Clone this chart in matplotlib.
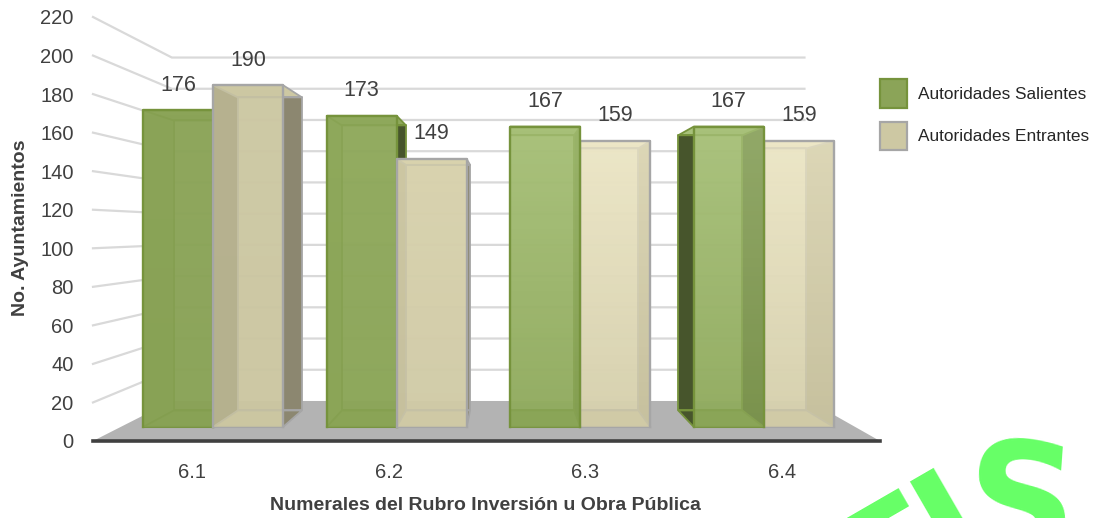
import matplotlib
matplotlib.use("Agg")
import matplotlib.pyplot as plt
import numpy as np
from matplotlib.colors import LinearSegmentedColormap
from matplotlib.patches import Patch, Polygon

plt.rcParams["font.family"] = ["Liberation Sans", "DejaVu Sans"]

categories = ["6.1", "6.2", "6.3", "6.4"]
salientes = [176, 173, 167, 167]
entrantes = [190, 149, 159, 159]
y_ticks = list(range(0, 221, 20))

# colour of the front faces, top and bottom of each group
green_top = ["#8ba458", "#8fa95c", "#a7c078", "#a8c17a"]
green_bot = ["#88a255", "#8aa456", "#8aa557", "#8aa557"]
beige_top = ["#cdc8a3", "#d8d2ad", "#ece6c6", "#ece6c6"]
beige_bot = ["#cbc6a1", "#cfc9a5", "#d0caa6", "#d0caa6"]
# side face seen through the glass
green_in = ["#8ba458", "#8fa95c", "#6f8a3c", "#47552c"]
beige_in = ["#6d6a50", "#a8a384", "#a8a384", "#a8a384"]

GREEN_EDGE = "#76933c"
BEIGE_EDGE = "#a6a6a6"
TEXT = "#404040"

# one point perspective: s is how far back a point sits, 0 = front of the floor
VX, VV = 508, 109.3
S_FRONT, S_BACK, S_WALL = 0.067, 0.145, 0.19
X_LEFT, X_RIGHT = 93, 880
GROUP_X = [192 + 196.7 * i for i in range(4)]
BAR_W = 75


def proj(x, v, s):
    return VX + (x - VX) * (1 - s), VV + (v - VV) * (1 - s)


fig = plt.figure(figsize=(10.94, 5.18), dpi=100)
ax = fig.add_axes([93 / 1094, 77 / 518, 787 / 1094, 424 / 518])
ax.set_xlim(X_LEFT, X_RIGHT)
ax.set_ylim(0, 220)


def face(points, color, alpha=1.0, edge=None, lw=1.0, z=3):
    ax.add_patch(Polygon(points, closed=True, facecolor=color, alpha=alpha,
                         edgecolor="none", zorder=z))
    if edge:
        ax.add_patch(Polygon(points, closed=True, fill=False, edgecolor=edge,
                             linewidth=lw, zorder=z + 0.1, joinstyle="round"))


def box(x0, x1, v, top, bot, side_l, side_r, edge, z):
    f = lambda x, val: proj(x, val, S_FRONT)
    b = lambda x, val: proj(x, val, S_BACK)
    # back, floor and sides first, the front goes over them like glass
    face([b(x0, 0), b(x1, 0), b(x1, v), b(x0, v)], top, alpha=0.85, edge=edge, lw=1.3, z=z)
    face([f(x0, 0), f(x1, 0), b(x1, 0), b(x0, 0)], bot, edge=edge, lw=1.3, z=z)
    face([f(x0, 0), b(x0, 0), b(x0, v), f(x0, v)], side_l, z=z)
    face([f(x1, 0), b(x1, 0), b(x1, v), f(x1, v)], side_r, z=z)
    face([f(x0, v), f(x1, v), b(x1, v), b(x0, v)], top, edge=edge, lw=1.3, z=z)

    (left, base) = f(x0, 0)
    (right, roof) = f(x1, v)
    cmap = LinearSegmentedColormap.from_list("bar", [top, bot])
    im = ax.imshow(np.linspace(0, 1, 64).reshape(-1, 1), cmap=cmap, aspect="auto",
                   extent=(left, right, base, roof), alpha=0.78, zorder=z + 0.2)
    im.set_clip_on(False)
    # bottom edge of the front is hardly visible in the original
    ax.plot([left, left, right, right], [base, roof, roof, base], color=edge, lw=1.7,
            zorder=z + 0.3, clip_on=False, solid_joinstyle="round")
    ax.plot([left, right], [base, base], color=edge, lw=0.8, alpha=0.7,
            zorder=z + 0.3, clip_on=False)


# floor
face([proj(X_LEFT, 0, 0), proj(X_RIGHT, 0, 0), proj(X_RIGHT, 0, S_WALL),
      proj(X_LEFT, 0, S_WALL)], "#b3b3b3", z=1)

# walls
for v in y_ticks[1:]:
    xs, ys = zip(proj(X_LEFT, v, 0), proj(X_LEFT, v, S_WALL), proj(X_RIGHT - 6, v, S_WALL))
    ax.plot(xs, ys, color="#d9d9d9", lw=1.6, zorder=1, clip_on=False,
            solid_joinstyle="miter")

# bars, the side facing the centre shows through the glass
for i, cx in enumerate(GROUP_X):
    if i < 2:
        g_sides = (green_in[i], "#47552c")
        e_sides = (beige_in[i], "#8c8770")
    else:
        g_sides = ("#47552c", green_in[i])
        e_sides = ("#8c8770", beige_in[i])
    g = (cx - BAR_W, cx, salientes[i], green_top[i], green_bot[i], *g_sides, GREEN_EDGE)
    e = (cx, cx + BAR_W, entrantes[i], beige_top[i], beige_bot[i], *e_sides, BEIGE_EDGE)
    if i < 2:
        box(*g, z=3 + i)
        box(*e, z=3.5 + i)
    else:
        box(*e, z=3 + i)
        box(*g, z=3.5 + i)

    for x, val in ((cx - BAR_W / 2, salientes[i]), (cx + BAR_W / 2, entrantes[i])):
        px, py = proj(x, val, S_FRONT)
        ax.annotate(str(val), (px, py), xytext=(0, 18), textcoords="offset points",
                    ha="center", va="center", fontsize=15.5, color=TEXT, zorder=20,
                    annotation_clip=False)

ax.set_xlim(X_LEFT, X_RIGHT)
ax.set_ylim(0, 220)
ax.set_xticks(GROUP_X, categories)
ax.set_yticks(y_ticks)
ax.tick_params(axis="both", length=0, labelsize=14.5, labelcolor=TEXT)
ax.tick_params(axis="x", pad=16)
ax.tick_params(axis="y", pad=14)
for side in ("top", "left", "right"):
    ax.spines[side].set_visible(False)
ax.spines["bottom"].set_color("#404040")
ax.spines["bottom"].set_linewidth(2.6)
ax.spines["bottom"].set_zorder(15)
ax.patch.set_visible(False)

ax.set_xlabel("Numerales del Rubro Inversión u Obra Pública", fontsize=14,
              fontweight="bold", color=TEXT, va="center")
ax.xaxis.set_label_coords(0.499, -64 / 424)
ax.set_ylabel("No. Ayuntamientos", fontsize=14, fontweight="bold", color=TEXT,
              va="center")
ax.yaxis.set_label_coords(-72 / 787, 213 / 424)

handles = [Patch(facecolor="#8ba458", edgecolor=GREEN_EDGE, linewidth=1.6),
           Patch(facecolor="#cdc8a3", edgecolor=BEIGE_EDGE, linewidth=1.6)]
fig.legend(handles, ["Autoridades Salientes", "Autoridades Entrantes"],
           loc="upper left", bbox_to_anchor=(880 / 1094, 1 - 79 / 518),
           frameon=False, fontsize=12.4, labelcolor="#262626", borderpad=0,
           borderaxespad=0, handlelength=1.55, handleheight=2.2, labelspacing=0.8,
           handletextpad=0.65)

# stamp cut off by the bottom edge of the image, the letters sit on an arc
fig.text(866 / 1094, 1 - 630 / 518, "TI", fontsize=105, family="DejaVu Sans",
         fontweight="bold", color="#66ff66", rotation=30, rotation_mode="anchor",
         ha="left", va="baseline", zorder=30)
fig.text(962 / 1094, 1 - 552 / 518, "S", fontsize=112, family="DejaVu Sans",
         fontweight="bold", color="#66ff66", rotation=-4, rotation_mode="anchor",
         ha="left", va="baseline", zorder=30)

fig.savefig("out.png", dpi=100)
